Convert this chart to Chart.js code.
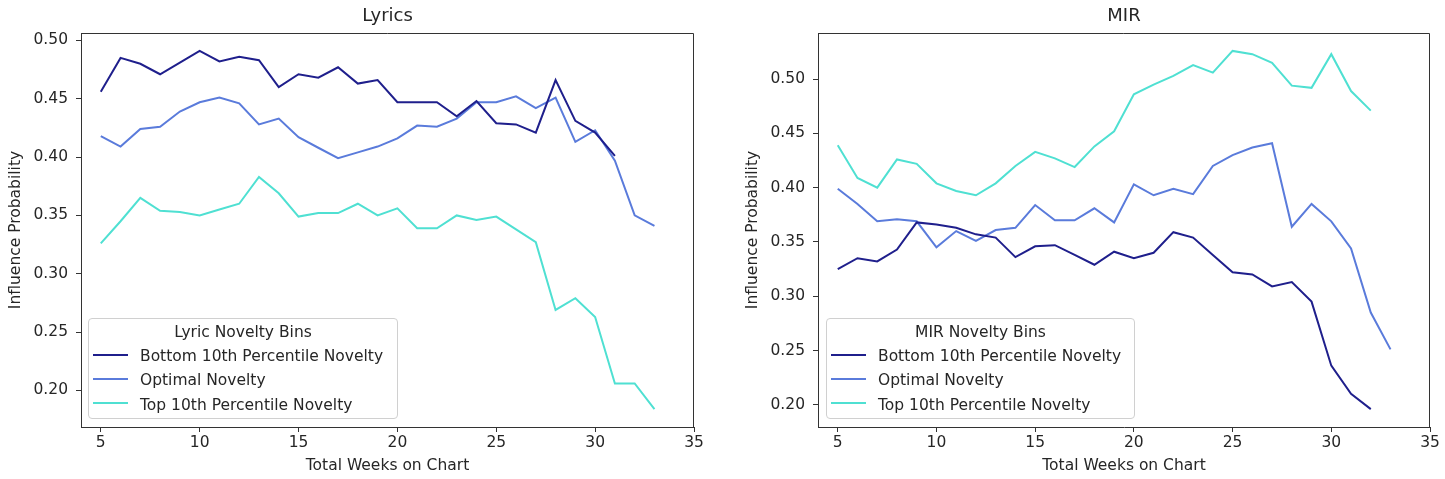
<!DOCTYPE html>
<html>
<head>
<meta charset="utf-8">
<script src="https://cdn.jsdelivr.net/npm/chart.js@4.4.1/dist/chart.umd.min.js"></script>
<style>
    body { margin: 0; background: #fff; font-family: "DejaVu Sans", sans-serif; }
    #wrap { position: relative; width: 1445px; height: 479px; }
    .box { position: absolute; }
    .legend {
        position: absolute; background: rgba(255,255,255,0.8);
        border: 1px solid #d0d0d0; border-radius: 4px;
        font-size: 15.5px; color: #262626; box-sizing: border-box;
    }
    .legend .ttl { text-align: center; margin-top: 1px; height: 24px; line-height: 24px; }
    .legend .row { height: 24.3px; line-height: 24.3px; white-space: nowrap; }
    .legend .sw { display: inline-block; width: 35px; height: 0; border-top: 2px solid; vertical-align: middle; margin: 0 12px 0 4px; position: relative; top: -2px; }
</style>
</head>
<body>
<div id="wrap">
    <div class="box" style="left:0;top:0;width:720px;height:479px"><canvas id="lyrics"></canvas></div>
    <div class="box" style="left:737px;top:0;width:708px;height:479px"><canvas id="mir"></canvas></div>
    <div class="legend" id="leg-lyrics" style="left:88px;top:318px;width:310px;height:101px"></div>
    <div class="legend" id="leg-mir" style="left:826px;top:318px;width:309px;height:101px"></div>
</div>
<script>
// series names + colours
const seriesNames = ['Bottom 10th Percentile Novelty', 'Optimal Novelty', 'Top 10th Percentile Novelty'];
const seriesColors = ['#1f1f8c', '#5a7bdb', '#4fe0d2'];

// x ticks / y ticks
const xTicks = [5, 10, 15, 20, 25, 30, 35];
const yTicks = [0.20, 0.25, 0.30, 0.35, 0.40, 0.45, 0.50];

// Lyrics panel
const lyricsBottomWeeks = [5,6,7,8,9,10,11,12,13,14,15,16,17,18,19,20,21,22,23,24,25,26,27,28,29,30,31];
const lyricsBottom = [0.456,0.485,0.480,0.471,0.481,0.491,0.482,0.486,0.483,0.460,0.471,0.468,0.477,0.463,0.466,0.447,0.447,0.447,0.435,0.448,0.429,0.428,0.421,0.466,0.431,0.421,0.401];
const lyricsOptimalWeeks = [5,6,7,8,9,10,11,12,13,14,15,16,17,18,19,20,21,22,23,24,25,26,27,28,29,30,31,32,33];
const lyricsOptimal = [0.418,0.409,0.424,0.426,0.439,0.447,0.451,0.446,0.428,0.433,0.417,0.408,0.399,0.404,0.409,0.416,0.427,0.426,0.433,0.447,0.447,0.452,0.442,0.451,0.413,0.423,0.397,0.350,0.341];
const lyricsTopWeeks = [5,6,7,8,9,10,11,12,13,14,15,16,17,18,19,20,21,22,23,24,25,26,27,28,29,30,31,32,33];
const lyricsTop = [0.326,0.345,0.365,0.354,0.353,0.350,0.355,0.360,0.383,0.369,0.349,0.352,0.352,0.360,0.350,0.356,0.339,0.339,0.350,0.346,0.349,0.338,0.327,0.269,0.279,0.263,0.206,0.206,0.184];

// MIR panel
const mirBottomWeeks = [5,6,7,8,9,10,11,12,13,14,15,16,17,18,19,20,21,22,23,24,25,26,27,28,29,30,31,32];
const mirBottom = [0.325,0.335,0.332,0.343,0.368,0.366,0.363,0.357,0.354,0.336,0.346,0.347,0.338,0.329,0.341,0.335,0.340,0.359,0.354,0.338,0.322,0.320,0.309,0.313,0.295,0.236,0.210,0.196];
const mirOptimalWeeks = [5,6,7,8,9,10,11,12,13,14,15,16,17,18,19,20,21,22,23,24,25,26,27,28,29,30,31,32,33];
const mirOptimal = [0.399,0.385,0.369,0.371,0.369,0.345,0.360,0.351,0.361,0.363,0.384,0.370,0.370,0.381,0.368,0.403,0.393,0.399,0.394,0.420,0.430,0.437,0.441,0.364,0.385,0.369,0.344,0.285,0.251];
const mirTopWeeks = [5,6,7,8,9,10,11,12,13,14,15,16,17,18,19,20,21,22,23,24,25,26,27,28,29,30,31,32];
const mirTop = [0.439,0.409,0.400,0.426,0.422,0.404,0.397,0.393,0.404,0.420,0.433,0.427,0.419,0.438,0.452,0.486,0.495,0.503,0.513,0.506,0.526,0.523,0.515,0.494,0.492,0.523,0.489,0.471];

const FONT = '"DejaVu Sans", sans-serif';
const INK = '#262626';
const FS = 15.5;

// matplotlib style frame: top and right edges (left/bottom come from the axes)
const framePlugin = {
    id: 'frame',
    afterDraw(chart) {
        const a = chart.chartArea, ctx = chart.ctx;
        ctx.save();
        ctx.strokeStyle = '#333';
        ctx.lineWidth = 1;
        ctx.beginPath();
        ctx.moveTo(a.left, a.top + 0.5);
        ctx.lineTo(a.right - 0.5, a.top + 0.5);
        ctx.lineTo(a.right - 0.5, a.bottom);
        ctx.stroke();
        ctx.restore();
    }
};

function pts(xs, ys) {
    return xs.map((x, i) => ({ x: x, y: ys[i] }));
}

function makeChart(id, title, weeks, values, rightPad) {
    const all = values.flat();
    const lo = Math.min(...all), hi = Math.max(...all);
    const m = (hi - lo) * 0.05;

    const datasets = values.map((v, i) => ({
        label: seriesNames[i],
        data: pts(weeks[i], v),
        borderColor: seriesColors[i],
        backgroundColor: seriesColors[i],
        borderWidth: 2,
        pointRadius: 0,
        tension: 0,
        fill: false
    }));

    return new Chart(document.getElementById(id), {
        type: 'line',
        data: { datasets },
        options: {
            responsive: true,
            maintainAspectRatio: false,
            animation: false,
            layout: { padding: { left: 0, right: rightPad, top: 0, bottom: 0 } },
            plugins: {
                legend: { display: false },
                tooltip: { enabled: false },
                title: {
                    display: true, text: title, color: INK, fullSize: false,
                    font: { family: FONT, size: 18, weight: 'normal' },
                    padding: { top: 6, bottom: 5.4 }
                }
            },
            scales: {
                x: {
                    type: 'linear', min: 4, max: 35,
                    afterBuildTicks: s => { s.ticks = xTicks.map(v => ({ value: v })); },
                    afterFit: s => { s.height = 52; },
                    grid: { drawOnChartArea: false, drawTicks: true, tickLength: 5, color: '#333' },
                    border: { display: true, color: '#333' },
                    ticks: { color: INK, font: { family: FONT, size: FS }, padding: 2, maxRotation: 0 },
                    title: {
                        display: true, text: 'Total Weeks on Chart', color: INK,
                        font: { family: FONT, size: FS }, padding: { top: 0, bottom: 4 }
                    }
                },
                y: {
                    type: 'linear', min: lo - m, max: hi + m,
                    afterBuildTicks: s => { s.ticks = yTicks.filter(v => v >= lo - m && v <= hi + m).map(v => ({ value: v })); },
                    afterFit: s => { s.width = 81; },
                    grid: { drawOnChartArea: false, drawTicks: true, tickLength: 5, color: '#333' },
                    border: { display: true, color: '#333' },
                    ticks: {
                        color: INK, font: { family: FONT, size: FS }, padding: 8,
                        callback: v => Number(v).toFixed(2)
                    },
                    title: {
                        display: true, text: 'Influence Probability', color: INK,
                        font: { family: FONT, size: FS }, padding: { top: 7, bottom: 0 }
                    }
                }
            }
        },
        plugins: [framePlugin]
    });
}

function buildLegend(elId, title, chart) {
    const el = document.getElementById(elId);
    let html = `<div class="ttl">${title}</div>`;
    chart.data.datasets.forEach(ds => {
        html += `<div class="row"><span class="sw" style="border-color:${ds.borderColor}"></span>${ds.label}</div>`;
    });
    el.innerHTML = html;
}

const lyricsChart = makeChart('lyrics', 'Lyrics',
    [lyricsBottomWeeks, lyricsOptimalWeeks, lyricsTopWeeks],
    [lyricsBottom, lyricsOptimal, lyricsTop], 26);
const mirChart = makeChart('mir', 'MIR',
    [mirBottomWeeks, mirOptimalWeeks, mirTopWeeks],
    [mirBottom, mirOptimal, mirTop], 15);

buildLegend('leg-lyrics', 'Lyric Novelty Bins', lyricsChart);
buildLegend('leg-mir', 'MIR Novelty Bins', mirChart);
</script>
</body>
</html>
